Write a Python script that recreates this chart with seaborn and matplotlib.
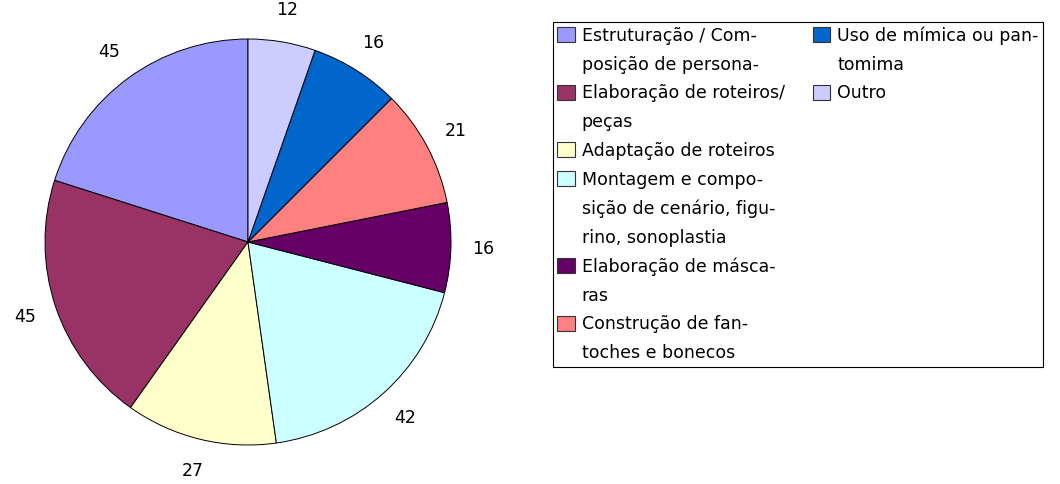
import matplotlib.pyplot as plt
import seaborn as sns
from matplotlib.patches import Patch

# values, in drawing order (counter-clockwise from 12 o'clock)
valores = [45, 45, 27, 42, 16, 21, 16, 12]
cores = ['#9999FF', '#993366', '#FFFFCC', '#CCFFFF',
         '#660066', '#FF8080', '#0066CC', '#CCCCFF']

# legend labels, wrapped the same way as in the original
legenda = [
    ['Estruturação / Com-', 'posição de persona-'],
    ['Elaboração de roteiros/', 'peças'],
    ['Adaptação de roteiros'],
    ['Montagem e compo-', 'sição de cenário, figu-', 'rino, sonoplastia'],
    ['Elaboração de másca-', 'ras'],
    ['Construção de fan-', 'toches e bonecos'],
    ['Uso de mímica ou pan-', 'tomima'],
    ['Outro'],
]

sns.set_theme(style='white')
plt.rcParams['font.family'] = ['DejaVu Sans']
plt.rcParams['text.color'] = 'black'
paleta = sns.color_palette(cores)

W, H = 1060, 484
fig = plt.figure(figsize=(W / 100, H / 100), dpi=100)

# square axes so that the pie (radius = size/2.5) sits at the right spot
lado = 507.5
cx, cy = 248, 242
ax = fig.add_axes([(cx - lado / 2) / W, (H - cy - lado / 2) / H, lado / W, lado / H])

ax.pie(valores, labels=[str(v) for v in valores], colors=paleta,
       startangle=90, counterclock=True, labeldistance=1.16,
       wedgeprops={'edgecolor': 'black', 'linewidth': 0.7},
       textprops={'ha': 'center', 'va': 'center', 'fontsize': 12.5, 'color': 'black'})
ax.set_aspect('equal')

# legend: one entry per text line, continuation lines get an empty handle
def montar(itens):
    hs, ls = [], []
    for i in itens:
        for k, linha in enumerate(legenda[i]):
            if k == 0:
                hs.append(Patch(facecolor=paleta[i], edgecolor='#333333', linewidth=0.8))
            else:
                hs.append(Patch(facecolor='none', edgecolor='none'))
            ls.append(linha)
    return hs, ls

h1, l1 = montar(range(6))
h2, l2 = montar([6, 7])
while len(h2) < len(h1):
    h2.append(Patch(facecolor='none', edgecolor='none'))
    l2.append('')

leg = fig.legend(h1 + h2, l1 + l2, ncol=2, loc='upper left',
                 bbox_to_anchor=(553 / W, 1 - 22 / H), borderaxespad=0,
                 frameon=True, fancybox=False, framealpha=1, edgecolor='black',
                 prop={'size': 12.5}, handlelength=1.0, handleheight=0.95,
                 handletextpad=0.4, columnspacing=1.63, labelspacing=0.62,
                 borderpad=0.25)
leg.get_frame().set_linewidth(0.8)
for t in leg.get_texts():
    t.set_color('black')

fig.savefig('out.png', dpi=100)
